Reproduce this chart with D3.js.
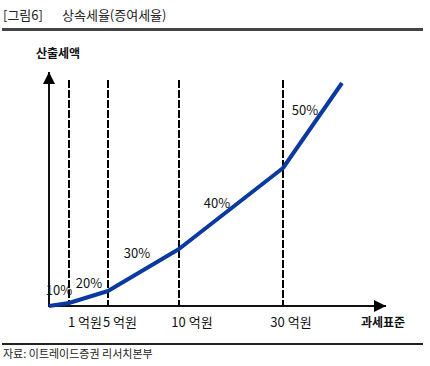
<!DOCTYPE html>
<html>
<head>
<meta charset="utf-8">
<style>
	body { margin: 0; background: #fff; }
	text { font-family: "Liberation Sans Narrow", "Arial Narrow", "Noto Sans CJK KR", sans-serif; }
	.kr { font-family: "Noto Sans CJK KR", sans-serif; }
</style>
</head>
<body>
<script src="https://cdnjs.cloudflare.com/ajax/libs/d3/7.8.5/d3.min.js"></script>
<script>
// tax base break points (억원) and schematic tax amount at each point
var taxBase = [0, 1, 5, 10, 30, 40];
var taxAmount = [0, 0.3, 1.5, 5.7, 13.8, 22.3];
var bracketLines = [1, 5, 10, 30];
var bracketLabels = ["1 억원", "5 억원", "10 억원", "30 억원"];
var rateLabels = ["10%", "20%", "30%", "40%", "50%"];

var W = 430, H = 366;
var svg = d3.select("body").append("svg")
	.attr("width", W)
	.attr("height", H);

// schematic (not proportional) horizontal layout
var x = d3.scaleLinear()
	.domain(taxBase)
	.range([49, 69, 108, 179, 283, 342]);
var y = d3.scaleLinear()
	.domain([0, 23.4])
	.range([306, 72]);

// header
svg.append("text").attr("class", "kr")
	.attr("x", 3).attr("y", 20)
	.style("font-size", "13px").style("fill", "#222")
	.text("[그림6]");
svg.append("text").attr("class", "kr")
	.attr("x", 62).attr("y", 20)
	.style("font-size", "13px").style("fill", "#222")
	.text("상속세율(증여세율)");
svg.append("rect")
	.attr("x", 2).attr("y", 28)
	.attr("width", 421).attr("height", 3)
	.style("fill", "#444");

// dashed bracket lines
svg.selectAll(".bracket")
	.data(bracketLines)
	.enter().append("line")
	.attr("class", "bracket")
	.attr("x1", function(d) { return x(d); })
	.attr("x2", function(d) { return x(d); })
	.attr("y1", 80)
	.attr("y2", y(0))
	.style("stroke", "#000")
	.style("stroke-width", 2)
	.style("stroke-dasharray", "8,2");

// axes with arrows
var defs = svg.append("defs");
defs.append("marker")
	.attr("id", "arrow")
	.attr("viewBox", "0 0 10 10")
	.attr("refX", 10).attr("refY", 5)
	.attr("markerWidth", 6).attr("markerHeight", 6)
	.attr("markerUnits", "strokeWidth")
	.attr("orient", "auto")
	.append("path")
	.attr("d", "M0,0 L10,5 L0,10 Z")
	.style("fill", "#000");

svg.append("line")
	.attr("x1", x(0)).attr("y1", y(0) + 1)
	.attr("x2", x(0)).attr("y2", y(23.4))
	.style("stroke", "#111").style("stroke-width", 2)
	.attr("marker-end", "url(#arrow)");
svg.append("line")
	.attr("x1", x(0) - 1).attr("y1", y(0))
	.attr("x2", 386).attr("y2", y(0))
	.style("stroke", "#111").style("stroke-width", 2)
	.attr("marker-end", "url(#arrow)");

// tax curve
var pts = taxBase.map(function(d, i) { return [d, taxAmount[i]]; });
svg.append("path")
	.datum(pts)
	.attr("d", d3.line()
		.x(function(d) { return x(d[0]); })
		.y(function(d) { return y(d[1]); }))
	.style("fill", "none")
	.style("stroke", "#0a3aa0")
	.style("stroke-width", 4)
	.style("stroke-linejoin", "round");

// rate labels, placed above each segment
var ratePos = [[59, 295], [89, 288], [137, 258], [217, 208], [305, 115]];
svg.selectAll(".rate")
	.data(rateLabels)
	.enter().append("text")
	.attr("class", "rate")
	.attr("x", function(d, i) { return ratePos[i][0]; })
	.attr("y", function(d, i) { return ratePos[i][1]; })
	.attr("text-anchor", "middle")
	.style("font-size", "13px")
	.style("fill", "#111")
	.text(function(d) { return d; });

// bracket labels
var labelOffset = [16, 12, 13, 8];
svg.selectAll(".blabel")
	.data(bracketLabels)
	.enter().append("text")
	.attr("class", "blabel")
	.attr("x", function(d, i) { return x(bracketLines[i]) + labelOffset[i]; })
	.attr("y", 327)
	.attr("text-anchor", "middle")
	.style("font-size", "13px")
	.style("fill", "#111")
	.text(function(d) { return d; });

// axis titles
svg.append("text").attr("class", "kr")
	.attr("x", 36).attr("y", 58)
	.style("font-size", "12px").style("font-weight", "bold").style("fill", "#111")
	.text("산출세액");
svg.append("text").attr("class", "kr")
	.attr("x", 361).attr("y", 327)
	.style("font-size", "12px").style("font-weight", "bold").style("fill", "#111")
	.text("과세표준");

// footer
svg.append("rect")
	.attr("x", 2).attr("y", 343)
	.attr("width", 421).attr("height", 2)
	.style("fill", "#222");
svg.append("text").attr("class", "kr")
	.attr("x", 3).attr("y", 358)
	.style("font-size", "11px").style("fill", "#222")
	.text("자료: 이트레이드증권 리서치본부");
</script>
</body>
</html>
